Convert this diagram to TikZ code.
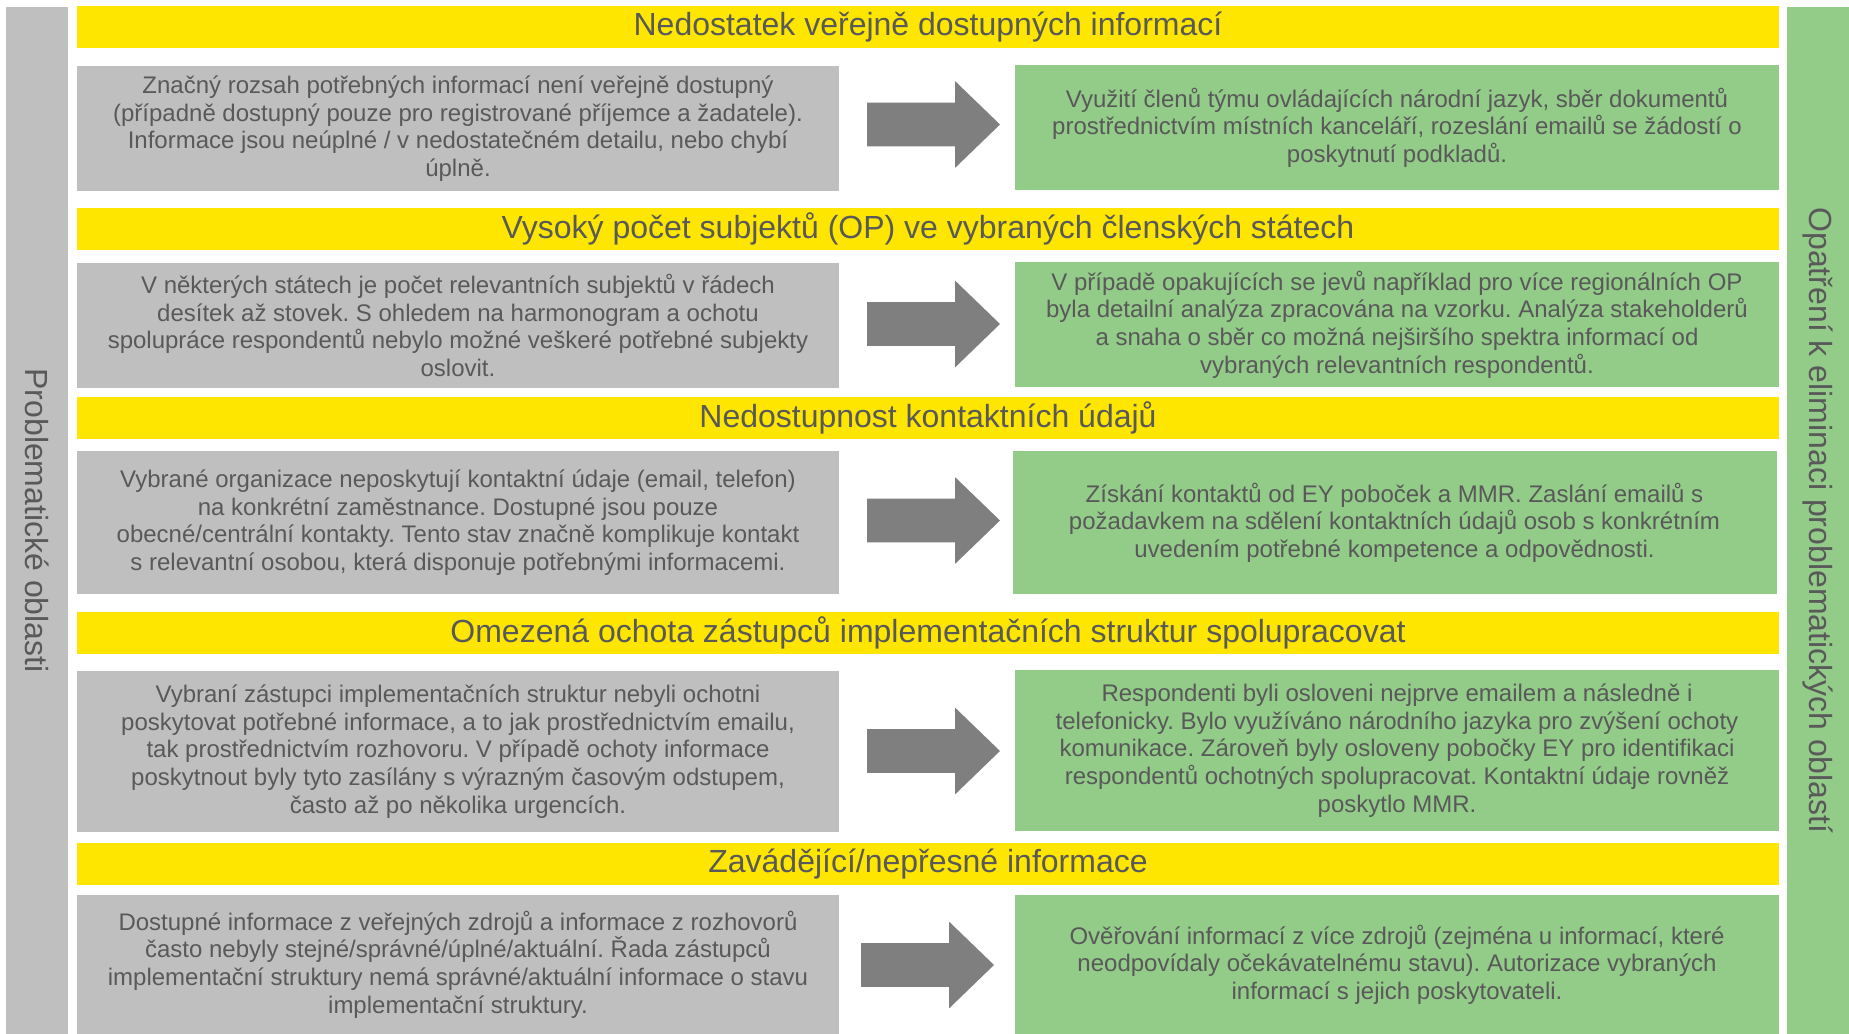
\documentclass[tikz,border=0pt]{standalone}
\usepackage{fontspec}
\setmainfont{Liberation Sans}
\usepackage{tikz}
\usetikzlibrary{shapes.arrows}
\definecolor{ey_yellow}{HTML}{FFE600}
\definecolor{light_gray}{HTML}{BFBFBF}
\definecolor{soft_green}{HTML}{93CB89}
\definecolor{arrow_gray}{HTML}{7F7F7F}
\definecolor{text_gray}{HTML}{595959}
\frenchspacing

\begin{document}
\begin{tikzpicture}[x=0.5pt, y=-0.5pt,
	header/.style={fill=ey_yellow, minimum width=851pt, minimum height=21pt, inner sep=0pt, text=text_gray, font=\fontsize{16}{19}\selectfont},
	problem/.style={fill=light_gray, minimum width=381pt, inner sep=0pt, align=center, text=text_gray, font=\fontsize{12}{13.8}\selectfont},
	remedy/.style={fill=soft_green, minimum width=382pt, inner sep=0pt, align=center, text=text_gray, font=\fontsize{12}{13.8}\selectfont},
	blockarrow/.style={single arrow, fill=arrow_gray, anchor=tail, outer sep=0pt, minimum height=66.5pt, inner xsep=0pt, inner ysep=10.75pt, single arrow head extend=10.75pt, single arrow tip angle=88},
	sidebar/.style={minimum width=513.5pt, minimum height=31pt, inner sep=0pt, rotate=-90, text=text_gray, font=\fontsize{16}{19}\selectfont}]
	\useasboundingbox (0, 0) rectangle (1849, 1034);
	% side bars
	\node[sidebar, fill=light_gray] (left) at (37, 520.5) {Problematické oblasti};
	\node[sidebar, fill=soft_green] (right) at (1818, 520.5) {Opatření k eliminaci problematických oblastí};
	% row 1
	\node[header] (h1) at (928, 27) {Nedostatek veřejně dostupných informací};
	\node[problem, minimum height=62.5pt] (p1) at (458, 128.5) {Značný rozsah potřebných informací není veřejně dostupný\\(případně dostupný pouze pro registrované příjemce a žadatele).\\Informace jsou neúplné / v nedostatečném detailu, nebo chybí\\úplně.};
	\node[blockarrow] (a1) at (867, 124.5) {};
	\node[remedy, minimum height=62.5pt] (r1) at (1397, 127.5) {Využití členů týmu ovládajících národní jazyk, sběr dokumentů\\prostřednictvím místních kanceláří, rozeslání emailů se žádostí o\\poskytnutí podkladů.};
	% row 2
	\node[header] (h2) at (928, 228.5) {Vysoký počet subjektů (OP) ve vybraných členských státech};
	\node[problem, minimum height=62.5pt] (p2) at (458, 325.5) {V některých státech je počet relevantních subjektů v řádech\\desítek až stovek. S ohledem na harmonogram a ochotu\\spolupráce respondentů nebylo možné veškeré potřebné subjekty\\oslovit.};
	\node[blockarrow] (a2) at (867, 324) {};
	\node[remedy, minimum height=62.5pt] (r2) at (1397, 324.5) {V případě opakujících se jevů například pro více regionálních OP\\byla detailní analýza zpracována na vzorku. Analýza stakeholderů\\a snaha o sběr co možná nejširšího spektra informací od\\vybraných relevantních respondentů.};
	% row 3
	\node[header] (h3) at (928, 418) {Nedostupnost kontaktních údajů};
	\node[problem, minimum height=71.5pt] (p3) at (458, 522.5) {Vybrané organizace neposkytují kontaktní údaje (email, telefon)\\na konkrétní zaměstnance. Dostupné jsou pouze\\obecné/centrální kontakty. Tento stav značně komplikuje kontakt\\s relevantní osobou, která disponuje potřebnými informacemi.};
	\node[blockarrow] (a3) at (867, 520.5) {};
	\node[remedy, minimum height=71.5pt] (r3) at (1394.5, 522.5) {Získání kontaktů od EY poboček a MMR. Zaslání emailů s\\požadavkem na sdělení kontaktních údajů osob s konkrétním\\uvedením potřebné kompetence a odpovědnosti.};
	% row 4
	\node[header] (h4) at (928, 633) {Omezená ochota zástupců implementačních struktur spolupracovat};
	\node[problem, minimum height=80.5pt] (p4) at (458, 751.5) {Vybraní zástupci implementačních struktur nebyli ochotni\\poskytovat potřebné informace, a to jak prostřednictvím emailu,\\tak prostřednictvím rozhovoru. V případě ochoty informace\\poskytnout byly tyto zasílány s výrazným časovým odstupem,\\často až po několika urgencích.};
	\node[blockarrow] (a4) at (867, 751) {};
	\node[remedy, minimum height=80.5pt] (r4) at (1397, 750.5) {Respondenti byli osloveni nejprve emailem a následně i\\telefonicky. Bylo využíváno národního jazyka pro zvýšení ochoty\\komunikace. Zároveň byly osloveny pobočky EY pro identifikaci\\respondentů ochotných spolupracovat. Kontaktní údaje rovněž\\poskytlo MMR.};
	% row 5
	\node[header] (h5) at (928, 864) {Zavádějící/nepřesné informace};
	\node[problem, minimum height=69.5pt] (p5) at (458, 964.5) {Dostupné informace z veřejných zdrojů a informace z rozhovorů\\často nebyly stejné/správné/úplné/aktuální. Řada zástupců\\implementační struktury nemá správné/aktuální informace o stavu\\implementační struktury.};
	\node[blockarrow] (a5) at (861, 965) {};
	\node[remedy, minimum height=69.5pt] (r5) at (1397, 964.5) {Ověřování informací z více zdrojů (zejména u informací, které\\neodpovídaly očekávatelnému stavu). Autorizace vybraných\\informací s jejich poskytovateli.};
\end{tikzpicture}
\end{document}
